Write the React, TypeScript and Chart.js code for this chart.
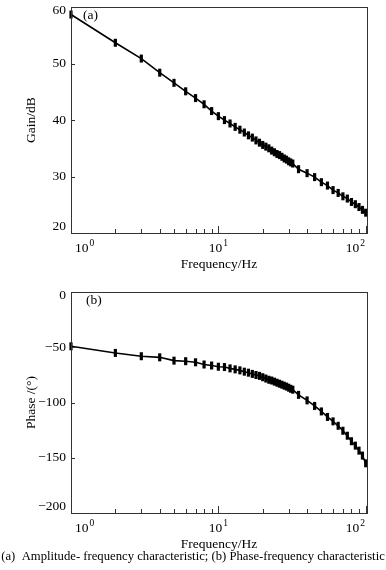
import { useEffect, useRef } from 'react';
import { Chart, registerables } from 'chart.js';

Chart.register(...registerables);

const FONT = '"Liberation Serif", "Times New Roman", serif';

// Frequencies (Hz)
const FREQ = [
  1, 2, 3, 4, 5, 6, 7, 8, 9, 10, 11, 12, 13, 14, 15, 16, 17, 18, 19, 20,
  21, 22, 23, 24, 25, 26, 27, 28, 29, 30, 31, 32,
  35, 40, 45, 50, 55, 60, 65, 70, 75, 80, 85, 90, 95, 100,
];

// Gain (dB)
const GAIN = [
  58.7, 53.7, 50.9, 48.4, 46.6, 45.1, 43.9, 42.8, 41.6, 40.7,
  40.0, 39.4, 38.8, 38.3, 37.8, 37.3, 36.9, 36.4, 36.0, 35.6,
  35.3, 35.0, 34.6, 34.3, 34.0, 33.8, 33.5, 33.2, 33.0, 32.7, 32.5, 32.3,
  31.3, 30.6, 29.9, 29.0, 28.4, 27.6, 27.1, 26.5, 26.1, 25.5, 25.1, 24.6, 24.1, 23.6,
];

// Phase (deg)
const PHASE = [
  -49, -55, -58, -59, -62, -62.5, -63.5, -65.5, -66.4, -67.5,
  -67.8, -69, -69.9, -70.8, -72, -72.9, -74, -75, -75.8, -77,
  -78.2, -79.3, -80, -81, -82, -82.9, -83.8, -84.7, -85.5, -86.5, -87.5, -88.3,
  -93, -98, -103, -108, -113, -117, -121, -125.5, -130, -135, -139, -143.5, -148, -155,
];

const GAIN_TICKS = [60, 50, 40, 30, 20];
const PHASE_TICKS = [0, -50, -100, -150, -200];
const X_MAJOR = [1, 10, 100];
const X_MAJOR_EXP = ['0', '1', '2'];
const X_MINOR = [2, 3, 4, 5, 6, 7, 8, 9, 20, 30, 40, 50, 60, 70, 80, 90];

const CAPTION =
  '(a)  Amplitude- frequency characteristic; (b) Phase-frequency characteristic';

type PanelOpts = {
  yTicks: number[];
  yTitle: string;
  panelLabel: string;
  panelX: number;
  panelY: number;
  caption?: string;
  captionY?: number;
};

function fmt(v: number) {
  return v < 0 ? '\u2212' + Math.abs(v) : String(v);
}

function framePlugin(o: PanelOpts) {
  return {
    id: 'frame',
    afterDraw(chart: any) {
      const ctx = chart.ctx as CanvasRenderingContext2D;
      const { left, right, top, bottom } = chart.chartArea;
      const xs = chart.scales.x;
      const ys = chart.scales.y;
      ctx.save();
      // box
      ctx.strokeStyle = '#333';
      ctx.lineWidth = 1;
      ctx.strokeRect(Math.round(left) + 0.5, Math.round(top) + 0.5, Math.round(right - left), Math.round(bottom - top));
      // x ticks (inside)
      ctx.beginPath();
      X_MINOR.forEach((v) => {
        const x = Math.round(xs.getPixelForValue(v)) + 0.5;
        ctx.moveTo(x, bottom);
        ctx.lineTo(x, bottom - 4);
      });
      X_MAJOR.forEach((v) => {
        const x = Math.round(xs.getPixelForValue(v)) + 0.5;
        ctx.moveTo(x, bottom);
        ctx.lineTo(x, bottom - 7);
      });
      // y ticks (inside)
      o.yTicks.forEach((v) => {
        const y = Math.round(ys.getPixelForValue(v)) + 0.5;
        ctx.moveTo(left, y);
        ctx.lineTo(left + 4, y);
      });
      ctx.stroke();

      ctx.fillStyle = '#000';
      // y tick labels
      ctx.font = '13.5px ' + FONT;
      ctx.textAlign = 'right';
      ctx.textBaseline = 'middle';
      o.yTicks.forEach((v) => {
        let y = ys.getPixelForValue(v);
        y = Math.min(Math.max(y, top + 3), bottom - 7);
        ctx.fillText(fmt(v), left - 5, y);
      });
      // x tick labels with superscripts
      X_MAJOR.forEach((v, i) => {
        ctx.font = '13.5px ' + FONT;
        const wBase = ctx.measureText('10').width;
        ctx.font = '9.5px ' + FONT;
        const wExp = ctx.measureText(X_MAJOR_EXP[i]).width;
        const w = wBase + wExp + 1;
        let cx = xs.getPixelForValue(v);
        cx = Math.min(Math.max(cx, left + 4 + w / 2), right - 2 - w / 2);
        const x0 = cx - w / 2;
        ctx.textAlign = 'left';
        ctx.textBaseline = 'middle';
        ctx.font = '13.5px ' + FONT;
        ctx.fillText('10', x0, bottom + 15);
        ctx.font = '9.5px ' + FONT;
        ctx.fillText(X_MAJOR_EXP[i], x0 + wBase + 1, bottom + 10);
      });
      // axis titles
      ctx.font = '13.5px ' + FONT;
      ctx.textAlign = 'center';
      ctx.textBaseline = 'middle';
      ctx.fillText('Frequency/Hz', (left + right) / 2, bottom + 31);
      ctx.save();
      ctx.translate(31, (top + bottom) / 2);
      ctx.rotate(-Math.PI / 2);
      ctx.fillText(o.yTitle, 0, 0);
      ctx.restore();
      // panel label
      ctx.textAlign = 'left';
      ctx.fillText(o.panelLabel, o.panelX, o.panelY);
      // caption
      if (o.caption) {
        ctx.font = '12.7px ' + FONT;
        ctx.textAlign = 'center';
        ctx.fillText(o.caption, 193, o.captionY || 0);
      }
      ctx.restore();
    },
  };
}

function makeConfig(values: number[], yMin: number, yMax: number, pad: any, o: PanelOpts): any {
  return {
    type: 'line',
    data: {
      datasets: [
        {
          data: FREQ.map((f, i) => ({ x: f, y: values[i] })),
          borderColor: '#000',
          borderWidth: 1.6,
          pointStyle: 'line',
          rotation: 90,
          pointRadius: 4,
          pointBorderWidth: 3.2,
          pointBorderColor: '#000',
          pointBackgroundColor: '#000',
          clip: false,
          tension: 0,
        },
      ],
    },
    options: {
      responsive: false,
      animation: false,
      devicePixelRatio: 1,
      layout: { padding: pad },
      plugins: { legend: { display: false }, tooltip: { enabled: false }, title: { display: false } },
      scales: {
        x: { type: 'logarithmic', min: 1, max: 102, display: false },
        y: { type: 'linear', min: yMin, max: yMax, display: false },
      },
    },
    plugins: [framePlugin(o)],
  };
}

export default function App() {
  const topRef = useRef<HTMLCanvasElement>(null);
  const botRef = useRef<HTMLCanvasElement>(null);

  useEffect(() => {
    const c1 = new Chart(
      topRef.current!,
      makeConfig(GAIN, 20, 60, { left: 71, right: 19, top: 6, bottom: 52 }, {
        yTicks: GAIN_TICKS,
        yTitle: 'Gain/dB',
        panelLabel: '(a)',
        panelX: 83,
        panelY: 15,
      })
    );
    const c2 = new Chart(
      botRef.current!,
      makeConfig(PHASE, -200, 0, { left: 71, right: 19, top: 3, bottom: 57 }, {
        yTicks: PHASE_TICKS,
        yTitle: 'Phase /(\u00b0)',
        panelLabel: '(b)',
        panelX: 86,
        panelY: 15,
        caption: CAPTION,
        captionY: 272,
      })
    );
    return () => {
      c1.destroy();
      c2.destroy();
    };
  }, []);

  return (
    <div style={{ position: 'fixed', left: 0, top: 0, width: 386, height: 570, background: '#fff' }}>
      <canvas ref={topRef} width={386} height={285} style={{ position: 'absolute', left: 0, top: 0, width: 386, height: 285 }} />
      <canvas ref={botRef} width={386} height={285} style={{ position: 'absolute', left: 0, top: 285, width: 386, height: 285 }} />
    </div>
  );
}
